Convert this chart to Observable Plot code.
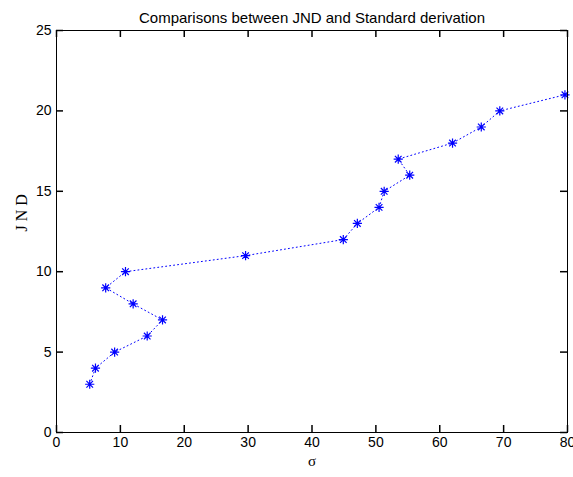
<!DOCTYPE html>
<html><head><meta charset="utf-8">
<script src="https://cdn.jsdelivr.net/npm/d3@7"></script>
<script src="https://cdn.jsdelivr.net/npm/@observablehq/plot@0.6"></script>
<style>body{margin:0;background:#fff}</style>
</head><body><div id="chart"></div>
<script>
const sigma = [5.2, 6.1, 9.1, 14.2, 16.6, 12.0, 7.7, 10.8, 29.6, 44.9, 47.1, 50.5, 51.3, 55.3, 53.5, 62.0, 66.5, 69.4, 79.6];
const jnd = [3, 4, 5, 6, 7, 8, 9, 10, 11, 12, 13, 14, 15, 16, 17, 18, 19, 20, 21];
const xTicks = [0, 10, 20, 30, 40, 50, 60, 70, 80];
const yTicks = [0, 5, 10, 15, 20, 25];
const title = "Comparisons between JND and Standard derivation";
const xLabel = "σ";
const yLabel = "J N D";

const data = sigma.map((s, i) => ({sigma: s, jnd: jnd[i]}));

// MATLAB-style '*' marker: plus combined with x
const star = {
  draw(ctx, size) {
    const r = Math.sqrt(size / Math.PI);
    const d = r * 0.72;
    ctx.moveTo(-r, 0); ctx.lineTo(r, 0);
    ctx.moveTo(0, -r); ctx.lineTo(0, r);
    ctx.moveTo(-d, -d); ctx.lineTo(d, d);
    ctx.moveTo(-d, d); ctx.lineTo(d, -d);
  }
};

const blue = "#0000ff";
const font = "'Liberation Sans', Arial, sans-serif";
const serif = "'Liberation Serif', 'Times New Roman', serif";
const W = 573, H = 477, mL = 56, mR = 6, mT = 30, mB = 45;
const tk = 7;
const pw = W - mL - mR, ph = H - mT - mB;

const chart = Plot.plot({
  width: W,
  height: H,
  marginLeft: mL,
  marginRight: mR,
  marginTop: mT,
  marginBottom: mB,
  style: {fontFamily: font, fontSize: "14px", background: "#fff", color: "#000"},
  x: {domain: [0, 80]},
  y: {domain: [0, 25]},
  marks: [
    Plot.line(data, {x: "sigma", y: "jnd", stroke: blue, strokeWidth: 1, strokeDasharray: "1,3"}),
    Plot.dot(data, {x: "sigma", y: "jnd", symbol: star, r: 4.6, stroke: blue, strokeWidth: 1.2}),
    Plot.frame({stroke: "#000"}),
    // inward ticks on all four sides
    Plot.tickX(xTicks, {x: d => d, insetTop: ph - tk, stroke: "#000", strokeWidth: 1.5}),
    Plot.tickX(xTicks, {x: d => d, insetBottom: ph - tk, stroke: "#000", strokeWidth: 1.5}),
    Plot.tickY(yTicks, {y: d => d, insetRight: pw - tk, stroke: "#000", strokeWidth: 1.5}),
    Plot.tickY(yTicks, {y: d => d, insetLeft: pw - tk, stroke: "#000", strokeWidth: 1.5}),
    Plot.axisX({ticks: xTicks, anchor: "bottom", tickSize: 0, tickPadding: 5, fontSize: 14, label: null}),
    Plot.axisY({ticks: yTicks, anchor: "left", tickSize: 0, tickPadding: 5, fontSize: 14, label: null}),
    Plot.text([title], {text: d => d, frameAnchor: "top", dy: -18, fontSize: 15}),
    Plot.text([xLabel], {text: d => d, frameAnchor: "bottom", dy: 33, fontSize: 15, fontFamily: serif}),
    Plot.text([yLabel], {text: d => d, frameAnchor: "left", dx: -35, rotate: -90, fontSize: 16, fontFamily: serif})
  ]
});
document.getElementById("chart").appendChild(chart);
</script>
</body></html>
